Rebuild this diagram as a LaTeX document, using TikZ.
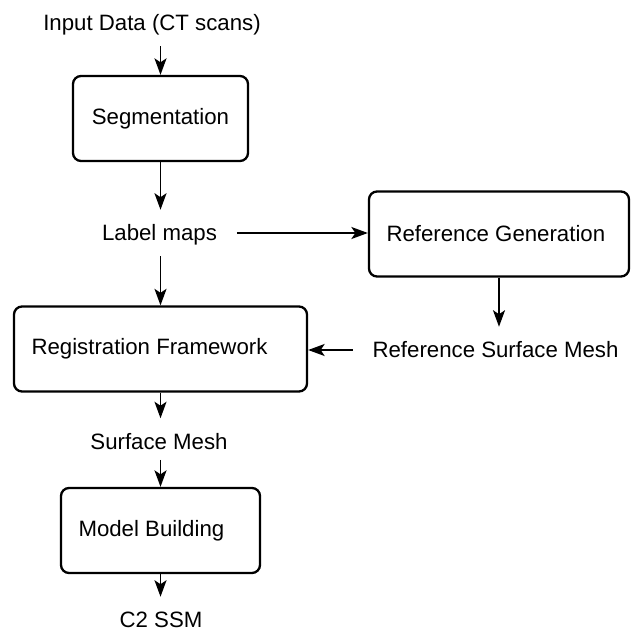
\documentclass[tikz,border=0pt]{standalone}
\usepackage{fontspec}
\setmainfont{Liberation Sans}
\usetikzlibrary{arrows.meta, positioning, calc}

\begin{document}
\begin{tikzpicture}[
        box/.style={rectangle, draw, rounded corners=0.16cm, line width=1.3pt, inner xsep=0.35cm, minimum height=1.7cm, align=flush left, font=\fontsize{12.65}{15}\selectfont},
        label/.style={inner xsep=0.39cm, inner ysep=0.3cm, text height=9pt, text depth=0pt, font=\fontsize{12.65}{15}\selectfont},
        arrow/.style={-{Stealth[length=0.33cm, width=0.24cm, inset=0.08cm]}, line width=1.1pt}
    ]
        \useasboundingbox (0,0) rectangle (12.6,-12.62);

        \node[label] (input) at (3.04,-0.46) {Input Data (CT scans)};
        \node[box, text width=2.8cm, align=center] (seg) at (3.21,-2.37) {Segmentation};
        \node[label] (labels) at (3.19,-4.66) {Label maps};
        \node[box, text width=4.5cm] (refgen) at (9.98,-4.68) {Reference Generation};
        \node[label] (refmesh) at (9.91,-7.00) {Reference Surface Mesh};
        \node[box, text width=5.16cm] (reg) at (3.21,-6.98) {Registration Framework};
        \node[label] (surf) at (3.18,-8.83) {Surface Mesh};
        \node[box, text width=3.28cm] (model) at (3.21,-10.61) {Model Building};
        \node[label] (ssm) at (3.22,-12.40) {C2 SSM};

        \draw[arrow] (seg.north |- input.south) -- (seg.north);
        \draw[arrow] (seg.south) -- (seg.south |- labels.north);
        \draw[arrow] (labels.east) -- (labels.east -| refgen.west);
        \draw[arrow] (seg.south |- labels.south) -- (reg.north);
        \draw[arrow] (refgen.south) -- (refgen.south |- refmesh.north);
        \draw[arrow] (refmesh.west) -- (refmesh.west -| reg.east);
        \draw[arrow] (reg.south) -- (reg.south |- surf.north);
        \draw[arrow, shorten <=-0.1cm] (reg.south |- surf.south) -- (model.north);
        \draw[arrow] (model.south) -- (model.south |- ssm.north);
    \end{tikzpicture}
\end{document}
